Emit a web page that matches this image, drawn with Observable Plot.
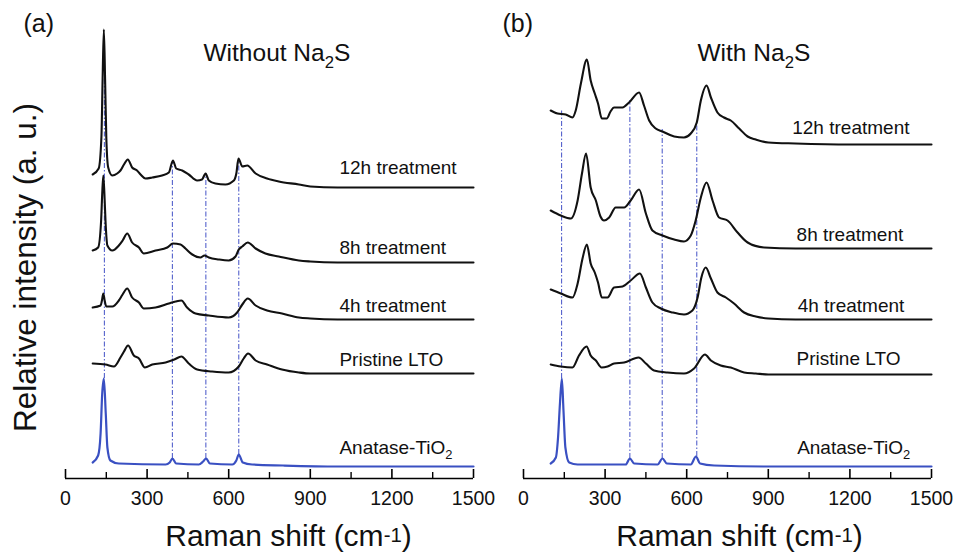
<!DOCTYPE html>
<html>
<head>
<meta charset="utf-8">
<script src="https://cdn.jsdelivr.net/npm/d3@7"></script>
<script src="https://cdn.jsdelivr.net/npm/@observablehq/plot@0.6"></script>
<style>
  body { margin: 0; background: #fff; }
  #wrap { position: relative; width: 957px; height: 553px; overflow: hidden; background: #fff; }
  #wrap svg { position: absolute; top: 0; overflow: visible; font-family: "Liberation Sans", Arial, sans-serif; }
</style>
</head>
<body>
<div id="wrap"></div>
<script>
// ---------- axis ticks ----------
const xTicks = [0, 300, 600, 900, 1200, 1500];
const xMinorTicks = [150, 450, 750, 1050, 1350];

// ---------- Panel (a): Without Na2S  [Raman shift cm-1, stacked intensity a.u.] ----------
const a12h = [[100,304],[122,310],[132,341],[136.5,400],[141,449],[145.5,400],[150,341],[157,311],[172,303],[190,305],[202,308],[215,314],[229,319],[245,311],[263,308],[276,304],[294,300],[319,301],[355,303],[380,306],[395,318],[407,310],[429,308],[453,304],[484,298],[502,299],[515,305],[527,298],[551,295],[588,294],[619,298],[628,305],[636,320],[650,312],[668,313],[699,305],[741,300],[784,297],[858,294],[900,292],[1000,291],[1200,291],[1500,291]];
const a8h = [[100,228],[120,231],[131,258],[135,285],[139,303],[143,285],[147,258],[154,233],[172,228],[196,233],[210,238],[227,245],[245,236],[270,231],[288,225],[331,228],[374,231],[395,235],[423,234],[441,230],[466,224],[496,221],[511,223],[527,221],[564,219],[600,218],[625,222],[637,229],[650,232],[670,236],[699,230],[735,225],[784,222],[858,218],[900,217],[1000,216],[1500,216]];
const a4h = [[100,171],[129,173],[134,178],[139,185],[144,178],[150,172],[172,172],[196,178],[210,184],[227,190],[245,181],[270,176],[288,170],[331,171],[380,175],[405,177],[426,178],[447,171],[478,165],[527,163],[600,161],[631,166],[650,174],[670,180],[699,173],[741,168],[796,165],[858,161],[900,160],[1000,159],[1500,159]];
const aPristine = [[100,115],[147,114],[178,112],[202,121],[215,127],[230,133],[251,123],[270,120],[292,111],[319,114],[368,116],[400,119],[426,122],[453,115],[484,109],[539,107],[600,106],[637,112],[655,120],[671,125],[699,118],[741,114],[796,109],[858,106],[900,105],[1000,105],[1500,105]];
const aAnatase = [[100,16],[120,23],[129,45],[135,85],[141,100],[148,65],[154,31],[165,18],[196,15],[368,14],[383,16],[393,20],[407,15],[490,14],[506,17],[517,20],[531,15],[613,14],[628,18],[637,24],[652,16],[686,14],[800,13],[1000,12],[1500,12]];
const aPeaks = [143, 393, 516, 637];
const aPeakTop = [400, 316, 305, 318];
const aPeakBottom = [100, 20, 20, 24];
const aLabels = [
  {x: 1007, y: 305, text: "12h treatment"},
  {x: 1007, y: 225, text: "8h treatment"},
  {x: 1007, y: 167, text: "4h treatment"},
  {x: 1007, y: 113, text: "Pristine LTO"},
  {x: 1007, y: 25, text: "Anatase-TiO_{2}"}
];

// ---------- Panel (b): With Na2S ----------
const b12h = [[100,368],[125,365],[155,364],[180,361],[192,368],[211,395],[233,419],[247,398],[262,385],[274,375],[288,360],[306,360],[320,367],[333,371],[364,371],[388,376],[425,386],[443,373],[462,358],[486,350],[511,347],[554,342],[590,341],[615,345],[637,356],[652,378],[673,393],[689,381],[713,366],[737,361],[762,358],[793,350],[824,342],[854,339],[900,336],[1000,335],[1200,334],[1500,334]];
const b8h = [[100,268],[137,263],[174,260],[199,278],[215,305],[230,325],[247,291],[266,278],[283,262],[296,258],[315,261],[339,271],[370,271],[394,278],[425,289],[450,265],[474,248],[511,243],[554,239],[590,237],[615,243],[633,258],[652,281],[673,296],[695,278],[719,261],[750,258],[787,246],[824,236],[885,231],[1000,230],[1500,230]];
const b4h = [[100,189],[137,185],[180,181],[199,195],[217,220],[233,234],[247,215],[262,206],[274,196],[288,181],[309,181],[333,191],[364,192],[394,198],[428,205],[450,191],[474,176],[505,170],[548,166],[590,164],[621,168],[640,181],[654,201],[670,211],[689,200],[713,186],[744,181],[774,175],[811,166],[854,162],[900,160],[1000,159],[1500,159]];
const bPristine = [[100,114],[137,112],[180,111],[204,123],[232,132],[247,123],[266,118],[287,111],[309,112],[333,115],[370,116],[423,121],[450,115],[480,108],[529,106],[590,105],[627,110],[667,124],[689,118],[725,113],[762,111],[811,106],[854,105],[900,104],[1500,104]];
const bAnatase = [[100,15],[119,21],[127,41],[134,75],[141,100],[147,68],[154,31],[168,16],[199,14],[376,14],[391,20],[407,15],[493,14],[511,20],[527,15],[615,14],[634,22],[649,15],[701,13],[900,12],[1500,12]];
const bPeaks = [140, 391, 510, 637];
const bPeakTop = [368, 378, 349, 356];
const bPeakBottom = [100, 20, 20, 22];
const bLabels = [
  {x: 988, y: 345, text: "12h treatment"},
  {x: 1004, y: 238, text: "8h treatment"},
  {x: 1008, y: 167, text: "4h treatment"},
  {x: 1004, y: 114, text: "Pristine LTO"},
  {x: 1006, y: 25, text: "Anatase-TiO_{2}"}
];

const BLACK = "#111111";
const BLUE = "#3a50c2";
const DASH = "#5562cc";
const FRAME_H = 450; // plot-area height in px (553 - 28 - 75)

function panel(cfg) {
  const lines = cfg.spectra.map(s =>
    Plot.line(s.data, {x: d => d[0], y: d => d[1], stroke: s.color, strokeWidth: s.width,
      curve: "monotone-x", strokeLinejoin: "round", strokeLinecap: "round"}));
  const peakRows = cfg.peaks.map((p, i) => ({x: p, y1: cfg.bottoms[i], y2: cfg.tops[i]}));
  const marks = [
    Plot.ruleX(peakRows, {x: "x", y1: "y1", y2: "y2", stroke: DASH, strokeWidth: 1.1, strokeDasharray: "5,2,1.5,2"}),
    ...lines,
    Plot.ruleY([0], {stroke: "#000", strokeWidth: 1.6}),
    // inward (upward) major and minor ticks
    Plot.ruleX(xTicks, {x: d => d, insetTop: FRAME_H - 9, stroke: "#000", strokeWidth: 1.6}),
    Plot.ruleX(xMinorTicks, {x: d => d, insetTop: FRAME_H - 6, stroke: "#000", strokeWidth: 1.4}),
    Plot.axisX(xTicks, {tickSize: 0, tickPadding: 13, fontSize: 19.5, label: null, tickFormat: d => String(d), fill: "#111"}),
    Plot.text(cfg.labels, {x: "x", y: "y", text: "text", textAnchor: "start", lineAnchor: "bottom", fontSize: 19, fill: "#111"}),
    Plot.text([cfg.tag], {frameAnchor: "top-left", textAnchor: "start", lineAnchor: "bottom", dx: cfg.tagDx, dy: 3, fontSize: 25, fill: "#111"}),
    Plot.text([cfg.title], {frameAnchor: "top-left", textAnchor: "start", lineAnchor: "bottom", dx: cfg.titleDx, dy: 32, fontSize: 24.5, fill: "#111"}),
    Plot.text(["Raman shift (cm^{-1})"], {frameAnchor: "bottom", textAnchor: "middle", lineAnchor: "bottom", dx: cfg.xTitleDx, dy: 67, fontSize: 30, fill: "#111"})
  ];
  if (cfg.yTitle) {
    marks.push(Plot.text([cfg.yTitle], {frameAnchor: "left", rotate: -90, textAnchor: "middle", lineAnchor: "bottom", dx: -30, dy: 14, fontSize: 31.5, fill: "#111"}));
  }
  return Plot.plot({
    width: cfg.width, height: 553,
    marginLeft: cfg.marginLeft, marginRight: cfg.marginRight, marginTop: 28, marginBottom: 75,
    x: {domain: [0, 1500], axis: null},
    y: {domain: [0, 450], axis: null},
    style: {background: "transparent", fontFamily: '"Liberation Sans", Arial, sans-serif', color: "#111"},
    marks
  });
}

function richify(svg) {
  svg.querySelectorAll("text").forEach(t => {
    const s = t.textContent;
    if (!/[_^]\{/.test(s)) return;
    const fs = parseFloat(getComputedStyle(t).fontSize) || 20;
    const parts = s.split(/([_^]\{[^}]*\})/).filter(Boolean);
    while (t.firstChild) t.removeChild(t.firstChild);
    let shift = 0;
    for (const p of parts) {
      const ts = document.createElementNS("http://www.w3.org/2000/svg", "tspan");
      let target = 0, txt = p, small = false;
      if (p.startsWith("_{")) { target = 0.3 * fs; txt = p.slice(2, -1); small = true; }
      else if (p.startsWith("^{")) { target = -0.12 * fs; txt = p.slice(2, -1); small = true; }
      ts.setAttribute("dy", (target - shift).toFixed(2));
      shift = target;
      if (small) ts.setAttribute("font-size", (0.68 * fs).toFixed(2));
      ts.textContent = txt;
      t.appendChild(ts);
    }
  });
}

const wrap = document.getElementById("wrap");

const svgA = panel({
  width: 478, marginLeft: 65, marginRight: 5,
  spectra: [
    {data: aAnatase, color: BLUE, width: 2.2},
    {data: aPristine, color: BLACK, width: 2.1},
    {data: a4h, color: BLACK, width: 2.1},
    {data: a8h, color: BLACK, width: 2.1},
    {data: a12h, color: BLACK, width: 2.1}
  ],
  peaks: aPeaks, tops: aPeakTop, bottoms: aPeakBottom, labels: aLabels,
  tag: "(a)", tagDx: -42, title: "Without Na_{2}S", titleDx: 138, xTitleDx: 19,
  yTitle: "Relative intensity (a. u.)"
});
svgA.style.left = "0px";
wrap.appendChild(svgA);

const svgB = panel({
  width: 479, marginLeft: 45, marginRight: 26,
  spectra: [
    {data: bAnatase, color: BLUE, width: 2.2},
    {data: bPristine, color: BLACK, width: 2.1},
    {data: b4h, color: BLACK, width: 2.1},
    {data: b8h, color: BLACK, width: 2.1},
    {data: b12h, color: BLACK, width: 2.1}
  ],
  peaks: bPeaks, tops: bPeakTop, bottoms: bPeakBottom, labels: bLabels,
  tag: "(b)", tagDx: -21, title: "With Na_{2}S", titleDx: 174, xTitleDx: 12
});
svgB.style.left = "478px";
wrap.appendChild(svgB);

richify(svgA);
richify(svgB);
</script>
</body>
</html>
